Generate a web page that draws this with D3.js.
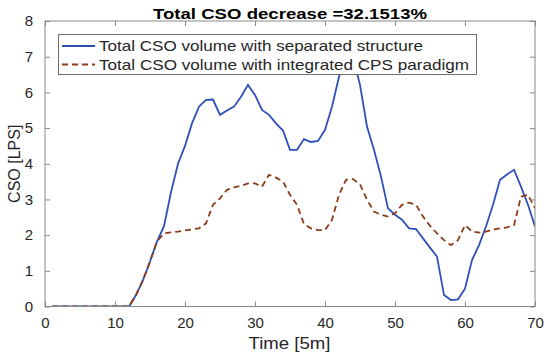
<!DOCTYPE html>
<html>
<head>
<meta charset="utf-8">
<script src="https://cdn.jsdelivr.net/npm/d3@7"></script>
<style>
  body { margin: 0; background: #fff; }
  text { font-family: "Liberation Sans", Arial, sans-serif; fill: #262626; }
</style>
</head>
<body>
<svg id="chart"></svg>
<script>
// time steps (5 min each)
const timeSteps = d3.range(1, 71);

// Total CSO volume with separated structure
const separatedCSO = [
  0, 0, 0, 0, 0, 0, 0, 0, 0, 0, 0, 0, 0.32, 0.74, 1.26, 1.82, 2.25, 3.2, 4.0, 4.5,
  5.13, 5.6, 5.79, 5.8, 5.37, 5.49, 5.6, 5.88, 6.21, 5.93, 5.51, 5.37, 5.13, 4.93, 4.39, 4.39, 4.69, 4.61, 4.64, 4.95,
  5.6, 6.44, 7.0, 7.0, 6.21, 5.04, 4.39, 3.64, 2.75, 2.57, 2.43, 2.19, 2.17, 1.91, 1.65, 1.4, 0.32, 0.18, 0.2, 0.5,
  1.3, 1.72, 2.24, 2.85, 3.55, 3.7, 3.83, 3.36, 2.85, 2.24
];

// Total CSO volume with integrated CPS paradigm
const integratedCSO = [
  0, 0, 0, 0, 0, 0, 0, 0, 0, 0, 0, 0, 0.32, 0.74, 1.26, 1.82, 2.05, 2.08, 2.1, 2.13,
  2.16, 2.19, 2.33, 2.85, 3.03, 3.27, 3.34, 3.38, 3.45, 3.45, 3.36, 3.69, 3.61, 3.5, 3.13, 2.85, 2.31, 2.19, 2.14, 2.14,
  2.43, 3.13, 3.55, 3.57, 3.43, 2.99, 2.66, 2.57, 2.52, 2.61, 2.85, 2.91, 2.85, 2.52, 2.26, 2.05, 1.86, 1.72, 1.86, 2.28,
  2.1, 2.07, 2.1, 2.16, 2.19, 2.22, 2.28, 3.08, 3.13, 2.75
];

const xTicks = [0, 10, 20, 30, 40, 50, 60, 70];
const yTicks = [0, 1, 2, 3, 4, 5, 6, 7, 8];
const legendLabels = [
  "Total CSO volume with separated structure",
  "Total CSO volume with integrated CPS paradigm"
];

const width = 550, height = 355;
const margin = { left: 45, right: 15, top: 21, bottom: 48.5 };

const svg = d3.select("#chart").attr("width", width).attr("height", height);

const x = d3.scaleLinear().domain([0, 70]).range([margin.left, width - margin.right]);
const y = d3.scaleLinear().domain([0, 8]).range([height - margin.bottom, margin.top]);

const axisColor = "#8a8a8a";

// clip so the curves stay inside the axes
svg.append("clipPath").attr("id", "plotClip")
  .append("rect")
  .attr("x", x(0)).attr("y", y(8))
  .attr("width", x(70) - x(0)).attr("height", y(0) - y(8));

// lines
const lineGen = (vals) => d3.line()
  .x((d, i) => x(timeSteps[i]))
  .y((d) => y(d))(vals);

const plot = svg.append("g").attr("clip-path", "url(#plotClip)");

plot.append("path")
  .attr("d", lineGen(separatedCSO))
  .attr("fill", "none")
  .attr("stroke", "#2f4fb8")
  .attr("stroke-width", 1.8);

plot.append("path")
  .attr("d", lineGen(integratedCSO))
  .attr("fill", "none")
  .attr("stroke", "#8c3a18")
  .attr("stroke-width", 1.8)
  .attr("stroke-dasharray", "6,4");

// axes (ticks inward on all four sides)
const tickLen = 5;
const styleAxis = (g) => {
  g.select(".domain").remove();
  g.selectAll("line").attr("stroke", axisColor);
  g.selectAll("text").attr("font-size", 15).attr("fill", "#262626")
    .attr("font-family", "Liberation Sans, Arial, sans-serif");
};

svg.append("g")
  .attr("transform", `translate(0,${y(0)})`)
  .call(d3.axisBottom(x).tickValues(xTicks).tickSizeInner(-tickLen).tickSizeOuter(0).tickPadding(11))
  .call(styleAxis);

svg.append("g")
  .attr("transform", `translate(0,${y(8)})`)
  .call(d3.axisTop(x).tickValues(xTicks).tickSizeInner(-tickLen).tickSizeOuter(0).tickFormat(""))
  .call(styleAxis);

svg.append("g")
  .attr("transform", `translate(${x(0)},0)`)
  .call(d3.axisLeft(y).tickValues(yTicks).tickSizeInner(-tickLen).tickSizeOuter(0).tickPadding(12))
  .call(styleAxis);

svg.append("g")
  .attr("transform", `translate(${x(70)},0)`)
  .call(d3.axisRight(y).tickValues(yTicks).tickSizeInner(-tickLen).tickSizeOuter(0).tickFormat(""))
  .call(styleAxis);

// box
svg.append("rect")
  .attr("x", x(0)).attr("y", y(8))
  .attr("width", x(70) - x(0)).attr("height", y(0) - y(8))
  .attr("fill", "none")
  .attr("stroke", axisColor)
  .attr("stroke-width", 1);

// title and axis labels (the source picture is stretched sideways, hence textLength)
svg.append("text")
  .attr("x", 290)
  .attr("y", 18.5)
  .attr("text-anchor", "middle")
  .attr("font-size", 15.5)
  .attr("font-weight", "bold")
  .attr("textLength", 274)
  .attr("lengthAdjust", "spacingAndGlyphs")
  .style("fill", "#000")
  .text("Total CSO decrease =32.1513%");

svg.append("text")
  .attr("x", 289.5)
  .attr("y", 349)
  .attr("text-anchor", "middle")
  .attr("font-size", 16.5)
  .attr("textLength", 82)
  .attr("lengthAdjust", "spacingAndGlyphs")
  .text("Time [5m]");

svg.append("text")
  .attr("transform", `translate(19.5,${(y(0) + y(8)) / 2}) rotate(-90)`)
  .attr("text-anchor", "middle")
  .attr("font-size", 16)
  .text("CSO [LPS]");

// legend
const legend = svg.append("g");
legend.append("rect")
  .attr("x", 58.5).attr("y", 34.5)
  .attr("width", 418).attr("height", 40)
  .attr("fill", "#fff")
  .attr("stroke", "#6e6e6e")
  .attr("stroke-width", 1);

const legendStyles = [
  { stroke: "#2f4fb8", dash: null, len: 324 },
  { stroke: "#8c3a18", dash: "6,4", len: 370 }
];

legendLabels.forEach((label, i) => {
  const ly = 46 + i * 18.5;
  legend.append("line")
    .attr("x1", 62).attr("x2", 95)
    .attr("y1", ly).attr("y2", ly)
    .attr("stroke", legendStyles[i].stroke)
    .attr("stroke-width", 1.8)
    .attr("stroke-dasharray", legendStyles[i].dash);
  legend.append("text")
    .attr("x", 99)
    .attr("y", ly + 5)
    .attr("font-size", 14.5)
    .attr("textLength", legendStyles[i].len)
    .attr("lengthAdjust", "spacingAndGlyphs")
    .text(label);
});
</script>
</body>
</html>
